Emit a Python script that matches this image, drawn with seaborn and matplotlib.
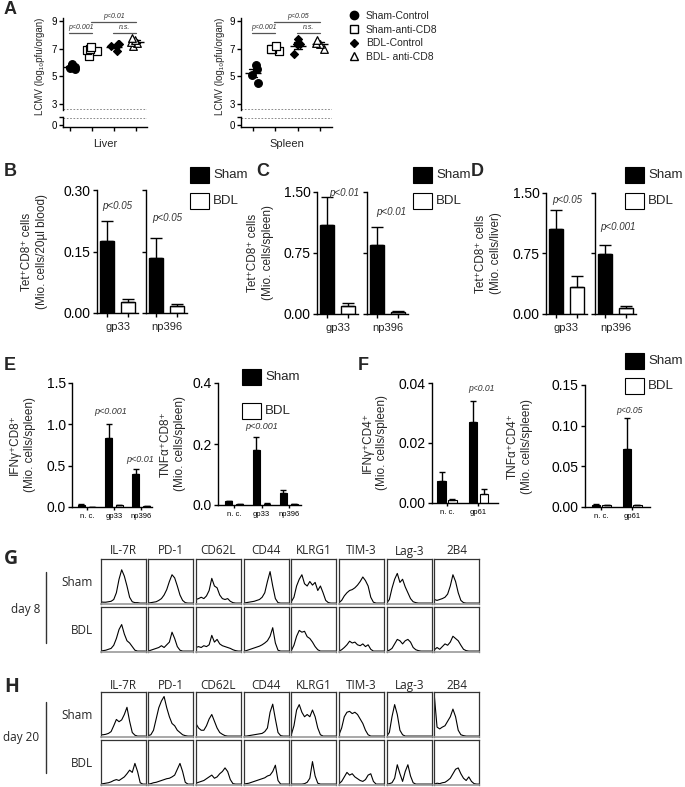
import numpy as np
import pandas as pd
import matplotlib
matplotlib.use("Agg")
import matplotlib.pyplot as plt
from matplotlib.lines import Line2D
from matplotlib.patches import Rectangle
import seaborn as sns

# --- A: LCMV titers (log10 pfu/organ) ---
groups_a = ["Sham-Control", "Sham-anti-CD8", "BDL-Control", "BDL- anti-CD8"]
liver_sham_ctrl = [5.5, 5.6, 5.7, 5.8, 5.9]
liver_sham_cd8 = [6.5, 6.8, 6.9, 7.0, 7.15]
liver_bdl_ctrl = [6.8, 7.2, 7.3, 7.3]
liver_bdl_cd8 = [7.2, 7.4, 7.5, 7.6, 7.8]
spleen_sham_ctrl = [4.5, 5.1, 5.5, 5.8]
spleen_sham_cd8 = [6.8, 6.95, 7.0, 7.2]
spleen_bdl_ctrl = [6.6, 7.3, 7.3, 7.7]
spleen_bdl_cd8 = [7.0, 7.3, 7.4, 7.6]
sig_pairs = [(0, 1), (1, 3), (2, 3)]
sig_levels = [8.13, 8.95, 8.13]
liver_sig = ["p<0.001", "p<0.01", "n.s."]
spleen_sig = ["p<0.001", "p<0.05", "n.s."]

# --- B-D: Tet+ CD8 cells ---
tet_antigens = ["gp33", "np396"]
b_sham, b_sham_sem = [0.176, 0.135], [0.049, 0.047]
b_bdl, b_bdl_sem = [0.026, 0.017], [0.008, 0.005]
b_p = ["p<0.05", "p<0.05"]
c_sham, c_sham_sem = [1.10, 0.85], [0.34, 0.22]
c_bdl, c_bdl_sem = [0.10, 0.03], [0.03, 0.01]
c_p = ["p<0.01", "p<0.01"]
d_sham, d_sham_sem = [1.05, 0.745], [0.24, 0.11]
d_bdl, d_bdl_sem = [0.34, 0.08], [0.13, 0.02]
d_p = ["p<0.05", "p<0.001"]

# --- E: cytokine+ CD8 cells ---
cd8_antigens = ["n. c.", "gp33", "np396"]
e_ifn_sham, e_ifn_sham_sem = [0.03, 0.83, 0.40], [0.012, 0.17, 0.056]
e_ifn_bdl, e_ifn_bdl_sem = [0.004, 0.02, 0.008], [0.002, 0.006, 0.003]
e_tnf_sham, e_tnf_sham_sem = [0.012, 0.18, 0.04], [0.002, 0.044, 0.01]
e_tnf_bdl, e_tnf_bdl_sem = [0.003, 0.004, 0.003], [0.001, 0.001, 0.001]

# --- F: cytokine+ CD4 cells ---
cd4_antigens = ["n. c.", "gp61"]
f_ifn_sham, f_ifn_sham_sem = [0.0075, 0.0269], [0.003, 0.0071]
f_ifn_bdl, f_ifn_bdl_sem = [0.001, 0.0031], [0.0003, 0.0016]
f_tnf_sham, f_tnf_sham_sem = [0.003, 0.071], [0.0008, 0.038]
f_tnf_bdl, f_tnf_bdl_sem = [0.002, 0.002], [0.0003, 0.0003]

# --- G/H: histogram traces (relative counts along the channel) ---
markers_hist = ["IL-7R", "PD-1", "CD62L", "CD44", "KLRG1", "TIM-3", "Lag-3", "2B4"]
d8_sham = [
    [0.05, 0.04, 0.04, 0.05, 0.06, 0.10, 0.25, 0.55, 0.76, 0.62, 0.40, 0.15, 0.05, 0.03, 0.03, 0.02, 0.02, 0.02],
    [0.02, 0.03, 0.04, 0.05, 0.08, 0.12, 0.20, 0.32, 0.50, 0.65, 0.58, 0.40, 0.20, 0.08, 0.03, 0.02, 0.02, 0.02],
    [0.10, 0.12, 0.15, 0.12, 0.18, 0.30, 0.57, 0.40, 0.36, 0.20, 0.12, 0.10, 0.12, 0.06, 0.03, 0.02, 0.02, 0.02],
    [0.02, 0.03, 0.04, 0.05, 0.06, 0.08, 0.10, 0.15, 0.25, 0.50, 0.72, 0.40, 0.12, 0.03, 0.02, 0.02, 0.02, 0.02],
    [0.05, 0.15, 0.40, 0.55, 0.65, 0.45, 0.40, 0.50, 0.42, 0.48, 0.30, 0.40, 0.25, 0.08, 0.03, 0.02, 0.02, 0.02],
    [0.03, 0.08, 0.18, 0.25, 0.30, 0.32, 0.36, 0.42, 0.50, 0.60, 0.52, 0.40, 0.15, 0.04, 0.02, 0.02, 0.02, 0.02],
    [0.02, 0.10, 0.35, 0.55, 0.68, 0.48, 0.55, 0.38, 0.25, 0.12, 0.05, 0.03, 0.02, 0.02, 0.02, 0.02, 0.02, 0.02],
    [0.10, 0.08, 0.10, 0.12, 0.15, 0.22, 0.40, 0.65, 0.50, 0.25, 0.08, 0.03, 0.02, 0.02, 0.02, 0.02, 0.02, 0.02],
]
d8_bdl = [
    [0.02, 0.03, 0.04, 0.06, 0.08, 0.15, 0.30, 0.50, 0.61, 0.40, 0.25, 0.20, 0.12, 0.04, 0.02, 0.02, 0.02, 0.02],
    [0.02, 0.04, 0.06, 0.08, 0.10, 0.14, 0.10, 0.16, 0.22, 0.44, 0.30, 0.12, 0.04, 0.02, 0.02, 0.02, 0.02, 0.02],
    [0.10, 0.12, 0.10, 0.14, 0.12, 0.16, 0.37, 0.22, 0.28, 0.18, 0.14, 0.12, 0.10, 0.08, 0.05, 0.03, 0.02, 0.02],
    [0.02, 0.03, 0.05, 0.07, 0.09, 0.11, 0.13, 0.16, 0.20, 0.25, 0.35, 0.54, 0.20, 0.04, 0.02, 0.02, 0.02, 0.02],
    [0.03, 0.15, 0.35, 0.48, 0.44, 0.46, 0.34, 0.30, 0.22, 0.12, 0.05, 0.02, 0.02, 0.02, 0.02, 0.02, 0.02, 0.02],
    [0.02, 0.05, 0.10, 0.16, 0.24, 0.20, 0.22, 0.16, 0.14, 0.18, 0.12, 0.16, 0.06, 0.02, 0.02, 0.02, 0.02, 0.02],
    [0.02, 0.04, 0.08, 0.18, 0.28, 0.25, 0.18, 0.25, 0.28, 0.22, 0.10, 0.05, 0.03, 0.02, 0.02, 0.02, 0.02, 0.02],
    [0.05, 0.10, 0.06, 0.12, 0.18, 0.15, 0.22, 0.35, 0.30, 0.25, 0.15, 0.06, 0.03, 0.02, 0.02, 0.02, 0.02, 0.02],
]
d20_sham = [
    [0.05, 0.05, 0.06, 0.08, 0.12, 0.25, 0.39, 0.34, 0.38, 0.50, 0.66, 0.35, 0.10, 0.04, 0.02, 0.02, 0.02, 0.02],
    [0.03, 0.05, 0.15, 0.40, 0.65, 0.80, 0.90, 0.65, 0.45, 0.30, 0.25, 0.15, 0.10, 0.05, 0.03, 0.02, 0.02, 0.02],
    [0.30, 0.20, 0.15, 0.15, 0.25, 0.40, 0.50, 0.35, 0.20, 0.10, 0.06, 0.03, 0.02, 0.02, 0.02, 0.02, 0.02, 0.02],
    [0.02, 0.02, 0.03, 0.04, 0.05, 0.06, 0.07, 0.08, 0.12, 0.20, 0.55, 0.73, 0.40, 0.10, 0.03, 0.02, 0.02, 0.02],
    [0.05, 0.25, 0.60, 0.72, 0.55, 0.45, 0.50, 0.45, 0.60, 0.45, 0.20, 0.05, 0.02, 0.02, 0.02, 0.02, 0.02, 0.02],
    [0.05, 0.20, 0.45, 0.55, 0.57, 0.52, 0.55, 0.50, 0.40, 0.30, 0.15, 0.05, 0.02, 0.02, 0.02, 0.02, 0.02, 0.02],
    [0.02, 0.10, 0.45, 0.72, 0.50, 0.15, 0.05, 0.02, 0.02, 0.02, 0.02, 0.02, 0.02, 0.02, 0.02, 0.02, 0.02, 0.02],
    [0.90, 0.22, 0.18, 0.22, 0.25, 0.35, 0.45, 0.62, 0.45, 0.15, 0.05, 0.03, 0.02, 0.02, 0.02, 0.02, 0.02, 0.02],
]
d20_bdl = [
    [0.02, 0.03, 0.04, 0.05, 0.07, 0.10, 0.12, 0.10, 0.14, 0.18, 0.25, 0.33, 0.28, 0.48, 0.30, 0.05, 0.02, 0.02],
    [0.02, 0.03, 0.05, 0.06, 0.08, 0.10, 0.12, 0.14, 0.15, 0.18, 0.22, 0.35, 0.48, 0.30, 0.06, 0.02, 0.02, 0.02],
    [0.04, 0.06, 0.08, 0.10, 0.14, 0.18, 0.22, 0.15, 0.18, 0.25, 0.30, 0.38, 0.30, 0.12, 0.03, 0.02, 0.02, 0.02],
    [0.02, 0.03, 0.04, 0.06, 0.08, 0.10, 0.12, 0.14, 0.16, 0.20, 0.22, 0.30, 0.44, 0.10, 0.02, 0.02, 0.02, 0.02],
    [0.02, 0.02, 0.02, 0.02, 0.02, 0.03, 0.06, 0.15, 0.52, 0.20, 0.04, 0.02, 0.02, 0.02, 0.02, 0.02, 0.02, 0.02],
    [0.03, 0.08, 0.18, 0.28, 0.22, 0.25, 0.18, 0.14, 0.10, 0.08, 0.12, 0.22, 0.25, 0.08, 0.02, 0.02, 0.02, 0.02],
    [0.02, 0.03, 0.05, 0.15, 0.45, 0.25, 0.08, 0.30, 0.45, 0.20, 0.05, 0.02, 0.02, 0.02, 0.02, 0.02, 0.02, 0.02],
    [0.02, 0.04, 0.03, 0.05, 0.06, 0.10, 0.15, 0.25, 0.35, 0.38, 0.25, 0.15, 0.10, 0.18, 0.08, 0.03, 0.02, 0.02],
]

# ---------------------------------------------------------------
sns.set_theme(style="ticks")
plt.rcParams["font.family"] = ["Liberation Sans", "DejaVu Sans"]
plt.rcParams.update({
    "axes.linewidth": 1.0, "axes.edgecolor": "black",
    "xtick.color": "black", "ytick.color": "black",
    "xtick.major.size": 3, "ytick.major.size": 3,
    "xtick.major.width": 1, "ytick.major.width": 1,
})
HIST_FONT = ["Open Sans", "DejaVu Sans"]
bar_colors = {"Sham": "black", "BDL": "white"}
np.random.seed(4)  # only for the horizontal jitter of the dot plots

FIG_W, FIG_H = 685, 787
fig = plt.figure(figsize=(FIG_W / 100, FIG_H / 100), dpi=100)


def px_axes(left, top, right, bottom):
    # axes from pixel box of the reference picture
    return fig.add_axes([left / FIG_W, 1 - bottom / FIG_H,
                         (right - left) / FIG_W, (bottom - top) / FIG_H])


def px_text(x, y, s, **kw):
    return fig.text(x / FIG_W, 1 - y / FIG_H, s, **kw)


def box_legend(x, ys, w=19, h=16):
    for y, lab in zip(ys, ["Sham", "BDL"]):
        fig.add_artist(Rectangle((x / FIG_W, 1 - (y + h) / FIG_H), w / FIG_W, h / FIG_H,
                                 transform=fig.transFigure, facecolor=bar_colors[lab],
                                 edgecolor="black", linewidth=0.8))
        px_text(x + w + 4, y + h / 2, lab, fontsize=9.5, va="center")


def add_sem(ax, sems, capsize):
    # error bar (upper half only) on top of every bar seaborn drew
    for p, e in zip(ax.patches, sems):
        xc = p.get_x() + p.get_width() / 2
        ax.errorbar(xc, p.get_height(), yerr=[[0], [e]], fmt="none", ecolor="black",
                    elinewidth=1, capsize=capsize, capthick=1)


# --- panel letters ---
for lab, (x, y) in zip("ABCDEF", [(4, 10), (4, 171), (256, 171), (471, 171), (4, 365), (358, 366)]):
    px_text(x, y, lab, fontsize=13, fontweight="bold", va="center")
for lab, y in zip("GH", [559, 687]):
    px_text(4, y, lab, fontsize=14, fontweight="bold", va="center", family=HIST_FONT)

# --- A ---
markers_a = ["o", "s", "D", "^"]
fills_a = ["black", "white", "black", "white"]
sizes_a = [5.5, 5.5, 4.0, 5.5]


def infection_panel(left, right, xlim, vals, sig_text, xlabel, ylab_x):
    top_ax = px_axes(left, 18, right, 110)
    bot_ax = px_axes(left, 117, right, 127)
    df = pd.DataFrame({"group": np.repeat(groups_a, [len(v) for v in vals]),
                       "value": np.concatenate(vals)})
    for g, m, fc, sz in zip(groups_a, markers_a, fills_a, sizes_a):
        sns.stripplot(data=df[df["group"] == g], x="group", y="value", order=groups_a,
                      jitter=0.22, marker=m, color=fc, edgecolor="black", linewidth=0.9,
                      size=sz, ax=top_ax)
    sns.pointplot(data=df, x="group", y="value", order=groups_a, errorbar="se", capsize=0.35,
                  color="black", markers="_", linestyles="none", markersize=11,
                  markeredgewidth=1, err_kws={"linewidth": 1}, ax=top_ax)
    for ax in (top_ax, bot_ax):
        ax.set_xlim(*xlim)
        ax.tick_params(labelsize=7, length=3, pad=1.5)
        ax.set_ylabel("")
        ax.spines[["top", "right"]].set_visible(False)
    top_ax.axhline(2.62, color="#777", lw=0.6, ls=(0, (2, 2)))
    bot_ax.axhline(0.48, color="#777", lw=0.6, ls=(0, (2, 2)))
    top_ax.set_ylim(2.55, 9.22)
    top_ax.set_yticks([3, 5, 7, 9])
    top_ax.spines["bottom"].set_visible(False)
    top_ax.tick_params(bottom=False, labelbottom=False)
    top_ax.set_xlabel("")
    bot_ax.set_ylim(-0.145, 0.578)
    bot_ax.set_yticks([0, 0.578], ["0", ""])
    bot_ax.set_xticks(range(len(groups_a)), [""] * len(groups_a))
    bot_ax.set_xlabel(xlabel, fontsize=8, labelpad=4)
    for (a, b), lvl, txt in zip(sig_pairs, sig_levels, sig_text):
        top_ax.plot([a - 0.05, b], [lvl, lvl], color="#555", lw=0.9, clip_on=False)
        top_ax.text((a + b) / 2, lvl + 0.12, txt, ha="center", va="bottom", fontsize=5,
                    style="italic", color="#333", clip_on=False)
    px_text(ylab_x, 66, "LCMV (log\u2081\u2080pfu/organ)", rotation=90, fontsize=7,
            ha="center", va="center")


infection_panel(63, 147, (-0.32, 3.5),
                [liver_sham_ctrl, liver_sham_cd8, liver_bdl_ctrl, liver_bdl_cd8],
                liver_sig, "Liver", 40)
infection_panel(241, 332, (-0.54, 3.54),
                [spleen_sham_ctrl, spleen_sham_cd8, spleen_bdl_ctrl, spleen_bdl_cd8],
                spleen_sig, "Spleen", 220)

handles = [Line2D([], [], marker=m, ls="none", markerfacecolor=fc, markeredgecolor="black",
                  markersize=s + 0.5) for m, fc, s in zip(markers_a, fills_a, sizes_a)]
fig.legend(handles, groups_a, loc="upper left", bbox_to_anchor=(349 / FIG_W, 1 - 11 / FIG_H),
           frameon=False, fontsize=7.5, handlelength=1.0, handletextpad=0.6,
           labelspacing=0.35, borderpad=0, borderaxespad=0)


# --- B, C, D ---
def tet_panel(lefts, top, bottom, ymax, yticks, sham, sham_sem, bdl, bdl_sem, pvals, p_x, p_y,
              ylabel, ylab_x, leg_x):
    for i, ag in enumerate(tet_antigens):
        ax = px_axes(lefts[i], top, lefts[i] + 41, bottom)
        sns.barplot(x=["Sham", "BDL"], y=[sham[i], bdl[i]], hue=["Sham", "BDL"],
                    palette=bar_colors, edgecolor="black", linewidth=1, width=0.7,
                    legend=False, ax=ax)
        add_sem(ax, [sham_sem[i], bdl_sem[i]], 4)
        ax.set_xlim(-0.5, 1.5)
        ax.set_ylim(0, ymax)
        ax.set_yticks(yticks)
        ax.tick_params(labelsize=10, pad=1.5)
        if i:
            ax.set_yticklabels([])
        ax.set_xticks([0, 1], ["", ""])
        ax.set_xlabel(ag, fontsize=8, labelpad=2)
        ax.text(p_x[i], p_y[i], pvals[i], ha="center", va="center", fontsize=7,
                style="italic", color="#333")
        sns.despine(ax=ax)
    px_text(ylab_x, (top + bottom) / 2, ylabel, rotation=90, fontsize=8.5,
            ha="center", va="center", linespacing=1.25)
    box_legend(leg_x, [167, 193])


tet_panel((97, 146), 190, 313, 0.30, [0, 0.15, 0.30], b_sham, b_sham_sem, b_bdl, b_bdl_sem,
          b_p, [0.5, 0.55], [0.261, 0.232],
          "Tet\u207aCD8\u207a cells\n(Mio. cells/20\u00b5l blood)", 34.5, 190)
tet_panel((317, 367), 192, 314, 1.5, [0, 0.75, 1.5], c_sham, c_sham_sem, c_bdl, c_bdl_sem,
          c_p, [0.85, 0.7], [1.485, 1.26],
          "Tet\u207aCD8\u207a cells\n(Mio. cells/spleen)", 260.5, 413)
tet_panel((546, 595), 193, 314, 1.5, [0, 0.75, 1.5], d_sham, d_sham_sem, d_bdl, d_bdl_sem,
          d_p, [0.55, 0.6], [1.41, 1.08],
          "Tet\u207aCD8\u207a cells\n(Mio. cells/liver)", 488.5, 625)


# --- E, F ---
def ics_panel(box, ymax, yticks, xlim, antigens, sham, sham_sem, bdl, bdl_sem, width, gap,
              p_list, p_size, ylabel, ylab_x, capsize):
    ax = px_axes(*box)
    n = len(antigens)
    df = pd.DataFrame({"antigen": antigens * 2, "group": ["Sham"] * n + ["BDL"] * n,
                       "value": sham + bdl})
    sns.barplot(data=df, x="antigen", y="value", hue="group", hue_order=["Sham", "BDL"],
                order=antigens, palette=bar_colors, edgecolor="black", linewidth=0.8,
                width=width, gap=gap, errorbar=None, legend=False, ax=ax)
    add_sem(ax, sham_sem + bdl_sem, capsize)
    ax.set_xlim(*xlim)
    ax.set_ylim(0, ymax)
    ax.set_yticks(yticks)
    ax.tick_params(axis="y", labelsize=10, pad=1.5)
    ax.tick_params(axis="x", labelsize=5.5, length=2.5, pad=1.5)
    ax.set_xlabel("")
    ax.set_ylabel("")
    for x, y, txt in p_list:
        ax.text(x, y, txt, ha="center", va="center", fontsize=p_size, style="italic", color="#333")
    sns.despine(ax=ax)
    px_text(ylab_x, (box[1] + box[3]) / 2, ylabel, rotation=90, fontsize=8.5,
            ha="center", va="center", linespacing=1.25)


ics_panel((72, 383, 152, 507), 1.5, [0, 0.5, 1.0, 1.5], (-0.55, 2.4), cd8_antigens,
          e_ifn_sham, e_ifn_sham_sem, e_ifn_bdl, e_ifn_bdl_sem, 0.8, 0.375,
          [(0.86, 1.15, "p<0.001"), (1.95, 0.58, "p<0.01")], 6.5,
          "IFN\u03b3\u207aCD8\u207a\n(Mio. cells/spleen)", 22.5, 2.5)
ics_panel((218, 383, 301, 505), 0.4, [0, 0.2, 0.4], (-0.6, 2.45), cd8_antigens,
          e_tnf_sham, e_tnf_sham_sem, e_tnf_bdl, e_tnf_bdl_sem, 0.8, 0.375,
          [(1.02, 0.257, "p<0.001")], 6.5,
          "TNF\u03b1\u207aCD8\u207a\n(Mio. cells/spleen)", 172.5, 2.5)
box_legend(242, [369, 403])
ics_panel((432, 383, 498, 503), 0.04, [0, 0.02, 0.04], (-0.48, 1.63), cd4_antigens,
          f_ifn_sham, f_ifn_sham_sem, f_ifn_bdl, f_ifn_bdl_sem, 0.7, 0.25,
          [(1.11, 0.0383, "p<0.01")], 6.2,
          "IFN\u03b3\u207aCD4\u207a\n(Mio. cells/spleen)", 375, 2.5)
ics_panel((585, 385, 650, 507), 0.15, [0, 0.05, 0.10, 0.15], (-0.52, 1.58), cd4_antigens,
          f_tnf_sham, f_tnf_sham_sem, f_tnf_bdl, f_tnf_bdl_sem, 0.7, 0.25,
          [(0.9, 0.119, "p<0.05")], 6.2,
          "TNF\u03b1\u207aCD4\u207a\n(Mio. cells/spleen)", 520, 2.5)
box_legend(625, [353, 378])


# --- G, H: histogram grid ---
def hist_block(header_y, rows, traces, day_label, day_x, day_y, line_span):
    for r, ((top, bottom), row_traces) in enumerate(zip(rows, traces)):
        for i, vals in enumerate(row_traces):
            left = 100.5 + i * 47.7
            ax = px_axes(left, top, left + 45, bottom)
            xs = np.linspace(0, 1, len(vals))
            sns.lineplot(x=xs, y=vals, color="black", linewidth=0.8, ax=ax)
            ax.set_xlim(0, 1)
            ax.set_ylim(0, 1)
            ax.set_xticks([])
            ax.set_yticks([])
            for s in ("top", "left", "right"):
                ax.spines[s].set_color("#333")
                ax.spines[s].set_linewidth(0.9)
            ax.spines["bottom"].set_color("#999")
            ax.spines["bottom"].set_linewidth(1.2)
            if r == 0:
                px_text(left + 22.5, header_y, markers_hist[i], fontsize=8.5, ha="center",
                        va="baseline", family=HIST_FONT)
        px_text(93, (top + bottom) / 2 + 1, ["Sham", "BDL"][r], fontsize=8.5, ha="right",
                va="center", family=HIST_FONT)
    px_text(day_x, day_y, day_label, fontsize=8.5, ha="center", va="center", family=HIST_FONT)
    fig.add_artist(Line2D([46 / FIG_W, 46 / FIG_W],
                          [1 - line_span[0] / FIG_H, 1 - line_span[1] / FIG_H],
                          color="#333", lw=1))


hist_block(554.5, [(559, 604), (607, 652)], [d8_sham, d8_bdl], "day 8", 26, 610, (571.7, 642.7))
hist_block(689, [(692, 737), (740, 785)], [d20_sham, d20_bdl], "day 20", 21, 737, (701.7, 773.3))

fig.savefig("out.png", dpi=100)
